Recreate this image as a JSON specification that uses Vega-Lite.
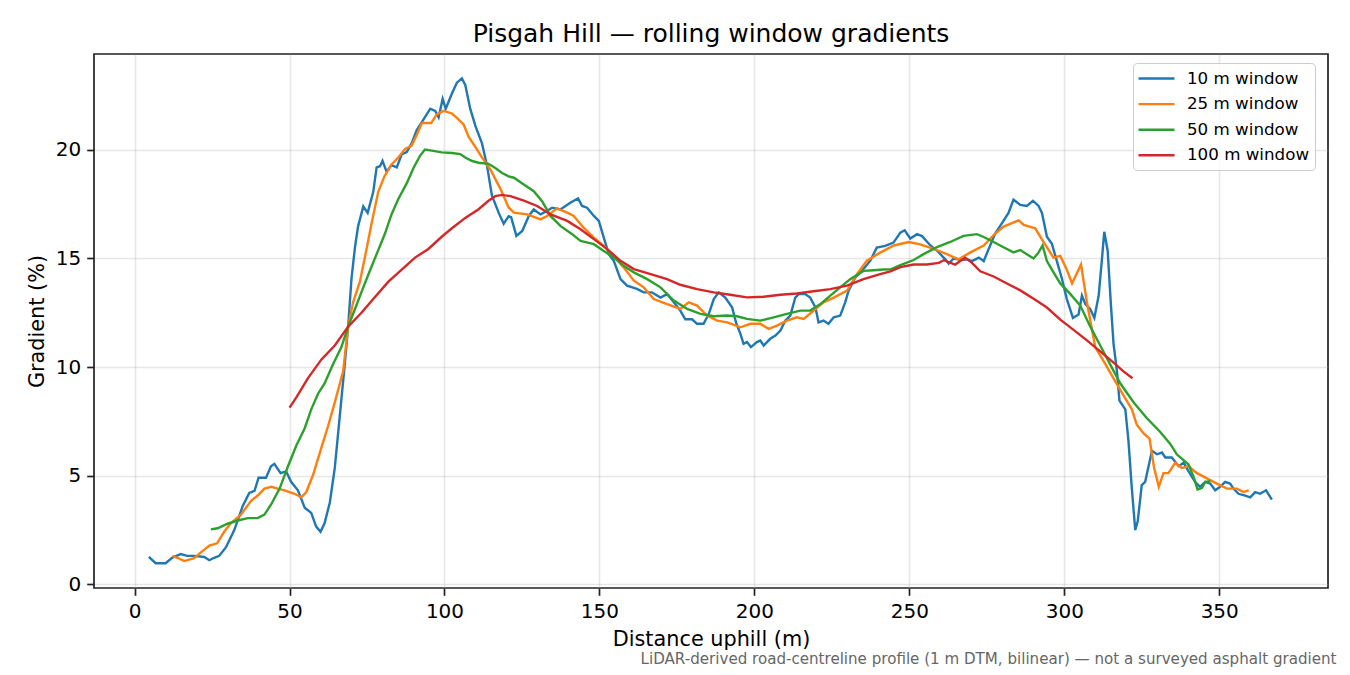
{
  "$schema": "https://vega.github.io/schema/vega-lite/v6.json",
  "width": 1234,
  "height": 534,
  "autosize": "none",
  "padding": {"left": 94, "top": 54, "right": 22, "bottom": 87},
  "background": "white",
  "title": {"text": "Pisgah Hill — rolling window gradients", "font": "DejaVu Sans", "fontSize": 25, "fontWeight": "normal", "color": "#000", "anchor": "middle", "offset": 7},
  "datasets": {
    "w10": [
      {"d":4.6,"g":1.25},{"d":6.8,"g":0.96},{"d":10,"g":0.96},{"d":12.2,"g":1.22},{"d":14.9,"g":1.38},{"d":17,"g":1.3},{"d":19.2,"g":1.3},{"d":22.5,"g":1.25},{"d":24.1,"g":1.1},{"d":25.5,"g":1.2},{"d":27.3,"g":1.3},{"d":29.5,"g":1.7},{"d":32.2,"g":2.5},{"d":34.9,"g":3.6},{"d":37,"g":4.2},{"d":38.7,"g":4.3},{"d":40,"g":4.9},{"d":42.4,"g":4.9},{"d":44,"g":5.43},{"d":45.1,"g":5.54},{"d":47.1,"g":5.11},{"d":48.9,"g":5.19},{"d":50.5,"g":4.71},{"d":52.7,"g":4.32},{"d":54.9,"g":3.52},{"d":57,"g":3.28},{"d":58.6,"g":2.65},{"d":60,"g":2.41},{"d":61.3,"g":2.8},{"d":63,"g":3.76},{"d":64.6,"g":5.35},{"d":66.2,"g":7.73},{"d":67.8,"g":10.1},{"d":68.9,"g":11.86},{"d":70,"g":14.09},{"d":71.1,"g":15.5},{"d":72.1,"g":16.47},{"d":73.8,"g":17.4},{"d":75.2,"g":17.1},{"d":77,"g":18.06},{"d":78.1,"g":19.2},{"d":79.2,"g":19.25},{"d":80,"g":19.5},{"d":81.3,"g":19.0},{"d":82.9,"g":19.3},{"d":84.6,"g":19.2},{"d":86.2,"g":19.8},{"d":87.8,"g":19.9},{"d":89.4,"g":20.3},{"d":91,"g":20.9},{"d":93.2,"g":21.4},{"d":95.4,"g":21.9},{"d":97,"g":21.8},{"d":98.1,"g":21.5},{"d":99.4,"g":22.35},{"d":100.4,"g":21.9},{"d":102.4,"g":22.6},{"d":104,"g":23.1},{"d":105.6,"g":23.3},{"d":106.7,"g":23.0},{"d":108.3,"g":21.9},{"d":110,"g":21.1},{"d":112.1,"g":20.3},{"d":113.7,"g":19.3},{"d":115.3,"g":17.9},{"d":117.5,"g":17.1},{"d":119.1,"g":16.6},{"d":120.7,"g":16.95},{"d":121.5,"g":16.9},{"d":123.2,"g":16.04},{"d":125.1,"g":16.27},{"d":127.2,"g":16.96},{"d":128.8,"g":17.26},{"d":131,"g":17.03},{"d":133.1,"g":17.19},{"d":134.7,"g":17.34},{"d":137.4,"g":17.26},{"d":140.6,"g":17.57},{"d":143.1,"g":17.77},{"d":144.4,"g":17.42},{"d":146,"g":17.34},{"d":148.2,"g":16.96},{"d":149.8,"g":16.73},{"d":151.4,"g":15.96},{"d":153,"g":15.2},{"d":154.6,"g":14.9},{"d":156.8,"g":14.05},{"d":158.9,"g":13.75},{"d":162.1,"g":13.6},{"d":164.3,"g":13.44},{"d":166.9,"g":13.44},{"d":169.7,"g":13.2},{"d":171.8,"g":13.36},{"d":174,"g":12.98},{"d":176.1,"g":12.6},{"d":177.7,"g":12.2},{"d":179.9,"g":12.2},{"d":181.5,"g":11.99},{"d":183.6,"g":11.99},{"d":185.3,"g":12.45},{"d":186.9,"g":13.13},{"d":188.5,"g":13.44},{"d":190.6,"g":13.2},{"d":192.8,"g":12.75},{"d":194.2,"g":11.99},{"d":195.5,"g":11.53},{"d":196.5,"g":11.07},{"d":197.6,"g":11.15},{"d":198.9,"g":10.92},{"d":200.8,"g":11.15},{"d":201.9,"g":11.22},{"d":203,"g":10.99},{"d":205.1,"g":11.3},{"d":206.8,"g":11.45},{"d":208.4,"g":11.68},{"d":210,"g":12.14},{"d":211.6,"g":12.37},{"d":213.2,"g":13.2},{"d":214.3,"g":13.36},{"d":216.4,"g":13.36},{"d":218,"g":13.2},{"d":219.7,"g":12.75},{"d":220.7,"g":12.06},{"d":222.3,"g":12.14},{"d":223.9,"g":11.99},{"d":225.6,"g":12.29},{"d":227.7,"g":12.37},{"d":229.3,"g":12.98},{"d":230.4,"g":13.52},{"d":232.6,"g":14.13},{"d":234.7,"g":14.43},{"d":237.4,"g":14.9},{"d":239.5,"g":15.5},{"d":242.2,"g":15.58},{"d":244.9,"g":15.73},{"d":247.1,"g":16.19},{"d":248.5,"g":16.3},{"d":250.3,"g":15.92},{"d":252.5,"g":16.12},{"d":254.1,"g":16.03},{"d":256.8,"g":15.6},{"d":259.5,"g":15.28},{"d":261.6,"g":14.96},{"d":262.7,"g":14.76},{"d":264.3,"g":15.0},{"d":267,"g":14.93},{"d":268.6,"g":14.96},{"d":270.2,"g":14.88},{"d":272.4,"g":15.04},{"d":274,"g":14.88},{"d":275.6,"g":15.44},{"d":277.7,"g":16.15},{"d":279.9,"g":16.63},{"d":282,"g":17.1},{"d":283.6,"g":17.71},{"d":285.8,"g":17.47},{"d":287.9,"g":17.42},{"d":289.9,"g":17.66},{"d":291.7,"g":17.42},{"d":292.8,"g":17.1},{"d":294.4,"g":16.0},{"d":296,"g":15.68},{"d":297.6,"g":14.88},{"d":299.2,"g":14.09},{"d":300.8,"g":13.14},{"d":302.8,"g":12.26},{"d":304.6,"g":12.42},{"d":305.7,"g":13.29},{"d":306.8,"g":12.9},{"d":308.4,"g":12.66},{"d":309.7,"g":12.26},{"d":311.1,"g":13.29},{"d":312.1,"g":14.88},{"d":312.9,"g":16.23},{"d":314,"g":15.36},{"d":315,"g":12.98},{"d":315.9,"g":11.07},{"d":317,"g":9.8},{"d":317.8,"g":8.45},{"d":319.7,"g":8.05},{"d":320.7,"g":6.62},{"d":321.8,"g":4.4},{"d":322.9,"g":2.49},{"d":323.7,"g":2.89},{"d":325,"g":4.56},{"d":326.1,"g":4.71},{"d":328.3,"g":6.14},{"d":329.9,"g":5.98},{"d":331.5,"g":6.06},{"d":332.6,"g":5.83},{"d":334.7,"g":5.83},{"d":336.9,"g":5.43},{"d":338.5,"g":5.59},{"d":340.1,"g":5.19},{"d":342.2,"g":4.71},{"d":343.8,"g":4.48},{"d":345.5,"g":4.71},{"d":347.1,"g":4.63},{"d":348.7,"g":4.32},{"d":350.3,"g":4.48},{"d":351.9,"g":4.71},{"d":353.5,"g":4.63},{"d":354.6,"g":4.4},{"d":356.2,"g":4.16},{"d":358.4,"g":4.08},{"d":360,"g":4.0},{"d":361.6,"g":4.24},{"d":363.2,"g":4.16},{"d":365.1,"g":4.32},{"d":367,"g":3.89}
    ],
    "w25": [
      {"d":12.2,"g":1.3},{"d":14,"g":1.2},{"d":16,"g":1.06},{"d":19.2,"g":1.19},{"d":21.4,"g":1.46},{"d":24.1,"g":1.77},{"d":26.6,"g":1.88},{"d":28.9,"g":2.41},{"d":31.1,"g":2.81},{"d":34.3,"g":3.2},{"d":37.6,"g":3.84},{"d":39.7,"g":4.08},{"d":41.9,"g":4.4},{"d":44.1,"g":4.48},{"d":46.2,"g":4.4},{"d":48.4,"g":4.32},{"d":51.6,"g":4.16},{"d":53.8,"g":4.0},{"d":55.4,"g":4.24},{"d":57.6,"g":5.03},{"d":60.3,"g":6.3},{"d":62.4,"g":7.26},{"d":64.6,"g":8.37},{"d":67.3,"g":9.8},{"d":68.9,"g":11.86},{"d":70.5,"g":12.98},{"d":72.7,"g":13.93},{"d":74.3,"g":15.04},{"d":76.5,"g":16.63},{"d":78.6,"g":18.06},{"d":80.6,"g":18.78},{"d":82.9,"g":19.33},{"d":85.1,"g":19.65},{"d":87.3,"g":20.05},{"d":89.4,"g":20.2},{"d":91,"g":20.68},{"d":92.7,"g":21.24},{"d":95.7,"g":21.24},{"d":97.5,"g":21.64},{"d":99.7,"g":21.8},{"d":102.4,"g":21.68},{"d":104,"g":21.48},{"d":106.2,"g":21.16},{"d":107.8,"g":20.6},{"d":110,"g":20.13},{"d":112.1,"g":19.65},{"d":114.8,"g":19.1},{"d":118,"g":18.22},{"d":120.7,"g":17.35},{"d":122.4,"g":17.11},{"d":126.7,"g":17.03},{"d":131,"g":16.8},{"d":133.1,"g":16.96},{"d":136.3,"g":17.31},{"d":139.6,"g":17.11},{"d":141.7,"g":16.96},{"d":144.9,"g":16.42},{"d":148.2,"g":15.96},{"d":151.4,"g":15.58},{"d":154.6,"g":15.12},{"d":157.8,"g":14.59},{"d":161.1,"g":13.98},{"d":164.3,"g":13.67},{"d":167.5,"g":13.13},{"d":171.8,"g":12.9},{"d":176.1,"g":12.68},{"d":178.8,"g":12.98},{"d":181.5,"g":12.83},{"d":184.7,"g":12.37},{"d":188,"g":12.14},{"d":191.2,"g":12.06},{"d":195.5,"g":11.83},{"d":198.7,"g":11.99},{"d":201.9,"g":11.99},{"d":204.6,"g":11.76},{"d":207.3,"g":11.91},{"d":210.5,"g":12.14},{"d":213.7,"g":12.29},{"d":215.9,"g":12.22},{"d":219.1,"g":12.6},{"d":222.3,"g":12.98},{"d":225.6,"g":13.2},{"d":229.9,"g":13.52},{"d":233.1,"g":14.28},{"d":236.3,"g":14.9},{"d":240.6,"g":15.27},{"d":245,"g":15.6},{"d":249.8,"g":15.76},{"d":253.5,"g":15.65},{"d":257.8,"g":15.44},{"d":262.1,"g":15.2},{"d":265.9,"g":14.96},{"d":269.7,"g":15.28},{"d":274,"g":15.6},{"d":277.2,"g":16.08},{"d":280.4,"g":16.47},{"d":283.1,"g":16.63},{"d":285.3,"g":16.76},{"d":286.9,"g":16.55},{"d":290.6,"g":16.39},{"d":293.3,"g":15.76},{"d":296.5,"g":15.04},{"d":298.7,"g":15.12},{"d":300.8,"g":14.49},{"d":302.5,"g":13.85},{"d":304.1,"g":14.33},{"d":305.4,"g":14.72},{"d":307.3,"g":12.98},{"d":310,"g":10.91},{"d":312.7,"g":10.27},{"d":315.9,"g":9.48},{"d":319.1,"g":8.69},{"d":321.8,"g":8.05},{"d":323.4,"g":7.34},{"d":325.6,"g":6.94},{"d":327.5,"g":6.7},{"d":329,"g":5.35},{"d":330.5,"g":4.48},{"d":332,"g":5.11},{"d":333.6,"g":5.11},{"d":335.8,"g":5.59},{"d":337.9,"g":5.35},{"d":340.1,"g":5.43},{"d":342.8,"g":5.11},{"d":346,"g":4.87},{"d":349.2,"g":4.63},{"d":352.5,"g":4.4},{"d":355.7,"g":4.4},{"d":357.8,"g":4.24},{"d":359.5,"g":4.32}
    ],
    "w50": [
      {"d":24.6,"g":2.52},{"d":26.8,"g":2.57},{"d":30,"g":2.78},{"d":33.3,"g":2.93},{"d":36.5,"g":3.04},{"d":39.7,"g":3.04},{"d":41.9,"g":3.2},{"d":44.1,"g":3.68},{"d":46.8,"g":4.4},{"d":49.5,"g":5.43},{"d":52.2,"g":6.38},{"d":54.9,"g":7.18},{"d":57,"g":8.05},{"d":59.2,"g":8.77},{"d":61.3,"g":9.24},{"d":64,"g":10.12},{"d":66.7,"g":10.91},{"d":68.9,"g":11.86},{"d":71.1,"g":12.66},{"d":73.2,"g":13.45},{"d":75.4,"g":14.25},{"d":78.1,"g":15.2},{"d":80.8,"g":16.15},{"d":82.9,"g":17.03},{"d":85.1,"g":17.74},{"d":87.8,"g":18.46},{"d":90,"g":19.17},{"d":92.1,"g":19.73},{"d":93.7,"g":20.02},{"d":95.9,"g":19.97},{"d":99.1,"g":19.89},{"d":102.4,"g":19.86},{"d":105.1,"g":19.81},{"d":106.7,"g":19.65},{"d":108.9,"g":19.49},{"d":111,"g":19.41},{"d":114.2,"g":19.36},{"d":116.4,"g":19.17},{"d":118.6,"g":18.94},{"d":120.7,"g":18.78},{"d":122.4,"g":18.72},{"d":125.6,"g":18.41},{"d":128.8,"g":18.1},{"d":131.5,"g":17.64},{"d":134.2,"g":16.96},{"d":137.4,"g":16.5},{"d":141.2,"g":16.12},{"d":143.9,"g":15.81},{"d":148.2,"g":15.66},{"d":151.4,"g":15.35},{"d":154.6,"g":15.05},{"d":157.8,"g":14.66},{"d":161.1,"g":14.36},{"d":165.4,"g":14.05},{"d":169.7,"g":13.67},{"d":174,"g":13.06},{"d":178.3,"g":12.68},{"d":182.6,"g":12.45},{"d":186.9,"g":12.34},{"d":191.2,"g":12.37},{"d":194.4,"g":12.34},{"d":197.6,"g":12.22},{"d":201.9,"g":12.14},{"d":206.2,"g":12.29},{"d":210.5,"g":12.45},{"d":214.8,"g":12.6},{"d":218,"g":12.6},{"d":221.3,"g":12.9},{"d":224.5,"g":13.29},{"d":227.7,"g":13.67},{"d":230.9,"g":14.05},{"d":235.2,"g":14.43},{"d":238.5,"g":14.46},{"d":241.5,"g":14.49},{"d":244,"g":14.5},{"d":247.1,"g":14.69},{"d":251.4,"g":14.93},{"d":254.6,"g":15.2},{"d":258.9,"g":15.52},{"d":263.2,"g":15.76},{"d":267.5,"g":16.04},{"d":271.8,"g":16.12},{"d":274,"g":15.99},{"d":277.2,"g":15.76},{"d":280.4,"g":15.52},{"d":283.6,"g":15.28},{"d":285.8,"g":15.39},{"d":287.9,"g":15.2},{"d":290.1,"g":15.0},{"d":291.7,"g":15.28},{"d":293,"g":15.6},{"d":294.4,"g":14.88},{"d":296,"g":14.49},{"d":298.7,"g":13.85},{"d":301.9,"g":13.37},{"d":305.2,"g":12.82},{"d":308.4,"g":11.86},{"d":311.6,"g":10.99},{"d":314.8,"g":10.12},{"d":318.1,"g":9.24},{"d":322.4,"g":8.37},{"d":326.6,"g":7.65},{"d":330.9,"g":7.02},{"d":334.2,"g":6.46},{"d":336.3,"g":5.98},{"d":340.1,"g":5.51},{"d":341.7,"g":4.95},{"d":343,"g":4.36},{"d":344.4,"g":4.43},{"d":345.5,"g":4.71},{"d":347.1,"g":4.74}
    ],
    "w100": [
      {"d":50,"g":8.13},{"d":52.2,"g":8.6},{"d":55.9,"g":9.48},{"d":60.3,"g":10.35},{"d":64.6,"g":10.99},{"d":68.9,"g":11.86},{"d":73.2,"g":12.5},{"d":77.5,"g":13.21},{"d":81.9,"g":13.93},{"d":86.2,"g":14.49},{"d":90.5,"g":15.04},{"d":94.8,"g":15.44},{"d":99.1,"g":16.0},{"d":102.4,"g":16.39},{"d":106.7,"g":16.87},{"d":111,"g":17.27},{"d":114.2,"g":17.66},{"d":116.4,"g":17.87},{"d":118.6,"g":17.93},{"d":121.3,"g":17.87},{"d":125.6,"g":17.67},{"d":129.9,"g":17.42},{"d":134.2,"g":17.03},{"d":139.6,"g":16.73},{"d":143.9,"g":16.35},{"d":148.2,"g":15.89},{"d":152.5,"g":15.43},{"d":156.8,"g":14.89},{"d":161.1,"g":14.51},{"d":166.5,"g":14.28},{"d":171.8,"g":14.05},{"d":176.1,"g":13.79},{"d":181.5,"g":13.59},{"d":186.9,"g":13.44},{"d":192.2,"g":13.33},{"d":197.6,"g":13.21},{"d":203,"g":13.24},{"d":208.4,"g":13.33},{"d":213.7,"g":13.39},{"d":219.1,"g":13.49},{"d":224.5,"g":13.59},{"d":229.9,"g":13.75},{"d":235.2,"g":14.05},{"d":240.6,"g":14.28},{"d":243.9,"g":14.41},{"d":247.1,"g":14.6},{"d":251.4,"g":14.72},{"d":255.7,"g":14.72},{"d":259.5,"g":14.8},{"d":261.1,"g":14.92},{"d":264.8,"g":14.72},{"d":268,"g":15.04},{"d":270.2,"g":14.8},{"d":272.9,"g":14.41},{"d":277.2,"g":14.17},{"d":281.5,"g":13.85},{"d":285.8,"g":13.53},{"d":290.1,"g":13.14},{"d":294.4,"g":12.74},{"d":298.7,"g":12.18},{"d":303,"g":11.71},{"d":307.3,"g":11.23},{"d":311.6,"g":10.72},{"d":315.9,"g":10.2},{"d":319.1,"g":9.8},{"d":322,"g":9.48}
    ]
  },
  "resolve": {"scale": {"x": "independent"}},
  "layer": [
    {
      "data": {"name": "w10"},
      "mark": {"type": "line", "strokeWidth": 2.4, "interpolate": "linear"},
      "encoding": {
        "x": {"field": "d", "type": "quantitative", "scale": {"domain": [-13.1, 385.1], "nice": false, "zero": false},
              "axis": {"orient": "bottom", "title": "Distance uphill (m)", "values": [0, 50, 100, 150, 200, 250, 300, 350], "grid": true}},
        "y": {"field": "g", "type": "quantitative", "scale": {"domain": [-0.18, 24.42], "nice": false, "zero": false},
              "axis": {"title": "Gradient (%)", "values": [0, 5, 10, 15, 20], "grid": true}},
        "color": {"datum": "10 m window", "type": "nominal",
                  "scale": {"domain": ["10 m window", "25 m window", "50 m window", "100 m window"], "range": ["#1f77b4", "#ff7f0e", "#2ca02c", "#d62728"]},
                  "legend": {"title": null, "orient": "none", "legendX": 1039, "legendY": 9, "direction": "vertical",
                             "symbolType": "M-2,0H2", "symbolSize": 324, "symbolStrokeWidth": 2.4, "symbolOffset": 8,
                             "labelFontSize": 16.7, "labelFont": "DejaVu Sans", "labelColor": "#000", "labelOffset": 20,
                             "rowPadding": 5.6, "padding": 5, "strokeColor": "#cccccc", "fillColor": "rgba(255,255,255,0.8)", "cornerRadius": 4}}
      }
    },
    {
      "data": {"name": "w25"},
      "mark": {"type": "line", "strokeWidth": 2.4, "interpolate": "linear"},
      "encoding": {
        "x": {"field": "d", "type": "quantitative", "scale": {"domain": [-13.1, 385.1], "nice": false, "zero": false}, "axis": null},
        "y": {"field": "g", "type": "quantitative"},
        "color": {"datum": "25 m window", "type": "nominal"}
      }
    },
    {
      "data": {"name": "w50"},
      "mark": {"type": "line", "strokeWidth": 2.4, "interpolate": "linear"},
      "encoding": {
        "x": {"field": "d", "type": "quantitative", "scale": {"domain": [-13.1, 385.1], "nice": false, "zero": false}, "axis": null},
        "y": {"field": "g", "type": "quantitative"},
        "color": {"datum": "50 m window", "type": "nominal"}
      }
    },
    {
      "data": {"name": "w100"},
      "mark": {"type": "line", "strokeWidth": 2.4, "interpolate": "linear"},
      "encoding": {
        "x": {"field": "d", "type": "quantitative", "scale": {"domain": [-13.1, 385.1], "nice": false, "zero": false},
              "axis": {"orient": "bottom", "title": "LiDAR-derived road-centreline profile (1 m DTM, bilinear) — not a surveyed asphalt gradient",
                       "labels": false, "ticks": false, "domain": false, "grid": false,
                       "titleFontSize": 15.1, "titleColor": "#666666", "titleFont": "DejaVu Sans", "titleFontWeight": "normal",
                       "titleAnchor": null, "titleAlign": "right", "titleBaseline": "alphabetic", "titleX": 1242, "titleY": 75}},
        "y": {"field": "g", "type": "quantitative"},
        "color": {"datum": "100 m window", "type": "nominal"}
      }
    }
  ],
  "config": {
    "font": "DejaVu Sans",
    "view": {"stroke": "#222222", "strokeWidth": 1.7},
    "axis": {
      "labelFont": "DejaVu Sans", "labelFontSize": 20, "labelColor": "#000000",
      "titleFont": "DejaVu Sans", "titleFontSize": 20.8, "titleFontWeight": "normal", "titleColor": "#000000",
      "tickColor": "#222222", "tickSize": 7.3, "tickWidth": 1.7,
      "labelPadding": 6, "titlePadding": 8,
      "domain": false,
      "gridColor": "#b0b0b0", "gridOpacity": 0.3, "gridWidth": 1.6
    }
  }
}
